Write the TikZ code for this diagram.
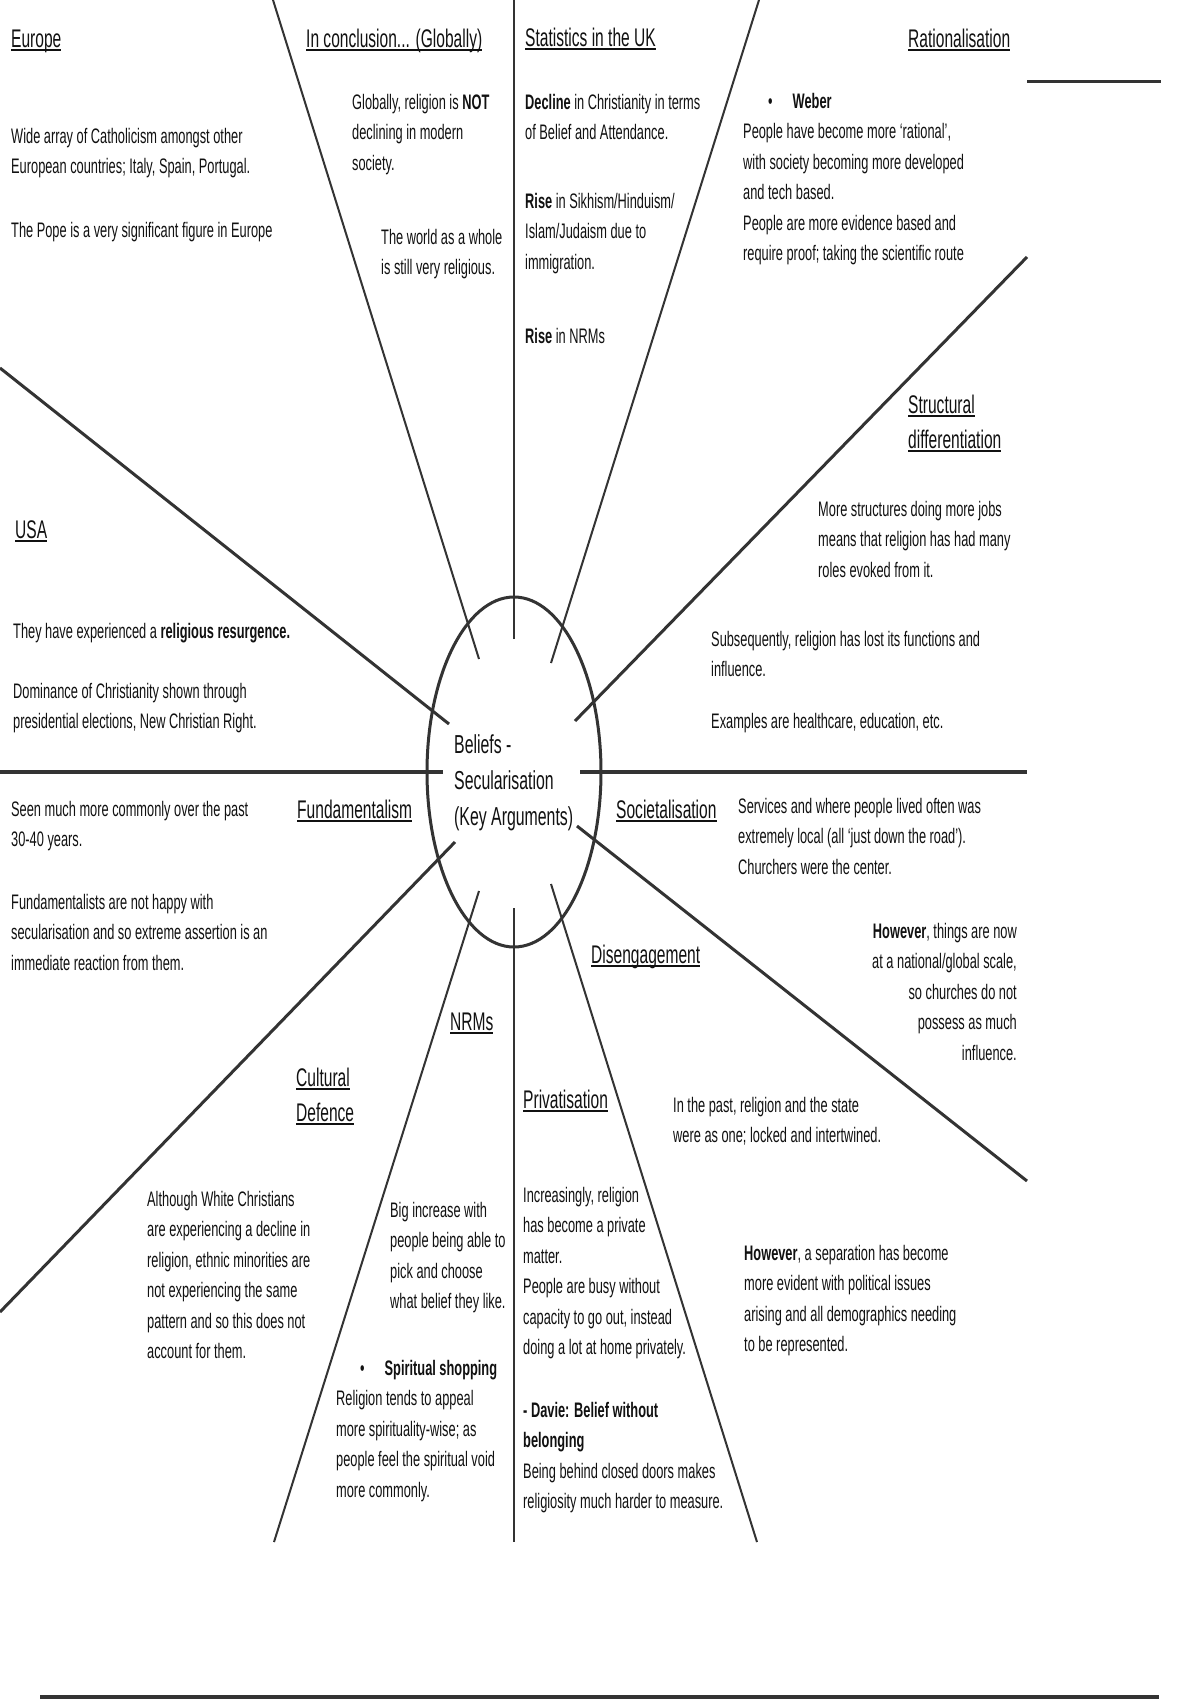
\documentclass[tikz,border=0pt]{standalone}
\usepackage{fontspec}
\setmainfont{Liberation Sans}[FakeStretch=0.61]
\usetikzlibrary{shapes.geometric}
\definecolor{ink}{HTML}{111111}
\definecolor{linec}{HTML}{333333}
\newcommand\bodyf{\fontsize{21}{30.5}\selectfont}
\newcommand\headf{\fontsize{25.5}{35}\selectfont}
\newcommand\centf{\fontsize{26}{36}\selectfont}
\newcommand\hdul[1]{\setbox0=\hbox{#1}\rlap{\rule[-3.5pt]{\wd0}{2pt}}\box0}
\begin{document}
\begin{tikzpicture}[x=1pt,y=-1pt,
  txt/.style={anchor=north west, inner sep=0pt, align=left, font=\bodyf, text=ink, execute at begin node=\strut},
  txtr/.style={anchor=north east, inner sep=0pt, align=right, font=\bodyf, text=ink, execute at begin node=\strut},
  head/.style={anchor=base west, inner sep=0pt, font=\headf, text=ink},
  spokethin/.style={draw=linec, line width=2pt},
  spokemid/.style={draw=linec, line width=3pt},
  spokethick/.style={draw=linec, line width=4.5pt},
]
\fill[white] (0,0) rectangle (1200,1700);
\useasboundingbox (0,0) rectangle (1200,1700);

% central ellipse and title
\node[ellipse, draw=linec, line width=3pt, minimum width=174pt, minimum height=350pt, inner sep=0pt] (core) at (514,772) {};
\node[anchor=north west, inner sep=0pt, align=left, font=\centf, text=ink, execute at begin node=\strut] (title) at (454,734) {Beliefs -\\Secularisation\\(Key Arguments)};

% spoke end points
\coordinate (upI) at (514,639);   \coordinate (upO) at (514,0);
\coordinate (dnI) at (514,908);   \coordinate (dnO) at (514,1542);
\coordinate (ulI) at (479,659);   \coordinate (ulO) at (273,0);
\coordinate (urI) at (551,663);   \coordinate (urO) at (759,0);
\coordinate (llI) at (479,891);   \coordinate (llO) at (274,1542);
\coordinate (lrI) at (551,884);   \coordinate (lrO) at (757,1542);
\coordinate (usaI) at (449,724);  \coordinate (usaO) at (0,368);
\coordinate (strI) at (575,721);  \coordinate (strO) at (1027,257);
\coordinate (cdI) at (455,842);   \coordinate (cdO) at (0,1312);
\coordinate (deI) at (577,826);   \coordinate (deO) at (1027,1181);
\coordinate (hlI) at (443,772);   \coordinate (hlO) at (0,772);
\coordinate (hrI) at (580,772);   \coordinate (hrO) at (1027,772);
\coordinate (trA) at (1027,81);   \coordinate (trB) at (1161,81);
\coordinate (btA) at (40,1697);   \coordinate (btB) at (1159,1697);

\draw[spokethin] (upI) -- (upO);
\draw[spokethin] (dnI) -- (dnO);
\draw[spokethin] (ulI) -- (ulO);
\draw[spokethin] (urI) -- (urO);
\draw[spokethin] (llI) -- (llO);
\draw[spokethin] (lrI) -- (lrO);
\draw[spokemid] (usaI) -- (usaO);
\draw[spokemid] (strI) -- (strO);
\draw[spokemid] (cdI) -- (cdO);
\draw[spokemid] (deI) -- (deO);
\draw[spokethick] (hlI) -- (hlO);
\draw[spokethick] (hrI) -- (hrO);
\draw[spokemid] (trA) -- (trB);
\draw[spokethick] (btA) -- (btB);

% headings
\node[head] (hEurope) at (11,47) {\hdul{Europe}};
\node[head] (hConcl) at (306,47) {\hdul{In conclusion... (Globally)}};
\node[head] (hStats) at (525,46) {\hdul{Statistics in the UK}};
\node[head] (hRat) at (908,47) {\hdul{Rationalisation}};
\node[head] (hStruct1) at (908,413) {\hdul{Structural}};
\node[head] (hStruct2) at (908,448) {\hdul{differentiation}};
\node[head] (hUSA) at (15,538) {\hdul{USA}};
\node[head] (hFund) at (297,818) {\hdul{Fundamentalism}};
\node[head] (hSoc) at (616,818) {\hdul{Societalisation}};
\node[head] (hDis) at (591,963) {\hdul{Disengagement}};
\node[head] (hNRM) at (450,1030) {\hdul{NRMs}};
\node[head] (hCult1) at (296,1086) {\hdul{Cultural}};
\node[head] (hCult2) at (296,1121) {\hdul{Defence}};
\node[head] (hPriv) at (523,1108) {\hdul{Privatisation}};

% body texts
\node[txt] (tEu1) at (11,128) {Wide array of Catholicism amongst other\\European countries; Italy, Spain, Portugal.};
\node[txt] (tEu2) at (11,216) {The Pope is a very significant figure in Europe};
\node[txt] (tGlob) at (352,94) {Globally, religion is \textbf{NOT}\\declining in modern\\society.};
\node[txt] (tWorld) at (381,229) {The world as a whole\\is still very religious.};
\node[txt] (tSt1) at (525,94) {\textbf{Decline} in Christianity in terms\\of Belief and Attendance.};
\node[txt] (tSt2) at (525,193) {\textbf{Rise} in Sikhism/Hinduism/\\Islam/Judaism due to\\immigration.};
\node[txt] (tSt3) at (525,322) {\textbf{Rise} in NRMs};
\node[txt] (tWeber) at (743,93) {\hspace*{25pt}•\hspace*{20pt}\textbf{Weber}\\People have become more ‘rational’,\\with society becoming more developed\\and tech based.\\People are more evidence based and\\require proof; taking the scientific route};
\node[txt] (tStruct) at (818,501) {More structures doing more jobs\\means that religion has had many\\roles evoked from it.};
\node[txt] (tSubs) at (711,631) {Subsequently, religion has lost its functions and\\influence.};
\node[txt] (tEx) at (711,707) {Examples are healthcare, education, etc.};
\node[txt] (tUSA1) at (13,617) {They have experienced a \textbf{religious resurgence.}};
\node[txt] (tUSA2) at (13,683) {Dominance of Christianity shown through\\presidential elections, New Christian Right.};
\node[txt] (tFund1) at (11,801) {Seen much more commonly over the past\\30-40 years.};
\node[txt] (tFund2) at (11,894) {Fundamentalists are not happy with\\secularisation and so extreme assertion is an\\immediate reaction from them.};
\node[txt] (tSoc) at (738,798) {Services and where people lived often was\\extremely local (all ‘just down the road’).\\Churchers were the center.};
\node[txtr] (tHow1) at (1017,923) {\textbf{However}, things are now\\at a national/global scale,\\so churches do not\\possess as much\\influence.};
\node[txt] (tPast) at (673,1097) {In the past, religion and the state\\were as one; locked and intertwined.};
\node[txt] (tCult) at (147,1191) {Although White Christians\\are experiencing a decline in\\religion, ethnic minorities are\\not experiencing the same\\pattern and so this does not\\account for them.};
\node[txt] (tNRM) at (390,1202) {Big increase with\\people being able to\\pick and choose\\what belief they like.};
\node[txt] (tSpir) at (336,1360) {\hspace*{24pt}•\hspace*{20pt}\textbf{Spiritual shopping}\\Religion tends to appeal\\more spirituality-wise; as\\people feel the spiritual void\\more commonly.};
\node[txt] (tPriv) at (523,1187) {Increasingly, religion\\has become a private\\matter.\\People are busy without\\capacity to go out, instead\\doing a lot at home privately.};
\node[txt] (tDavie) at (523,1402) {\textbf{- Davie: Belief without}\\\textbf{belonging}\\Being behind closed doors makes\\religiosity much harder to measure.};
\node[txt] (tHow2) at (744,1245) {\textbf{However}, a separation has become\\more evident with political issues\\arising and all demographics needing\\to be represented.};
\end{tikzpicture}
\end{document}
